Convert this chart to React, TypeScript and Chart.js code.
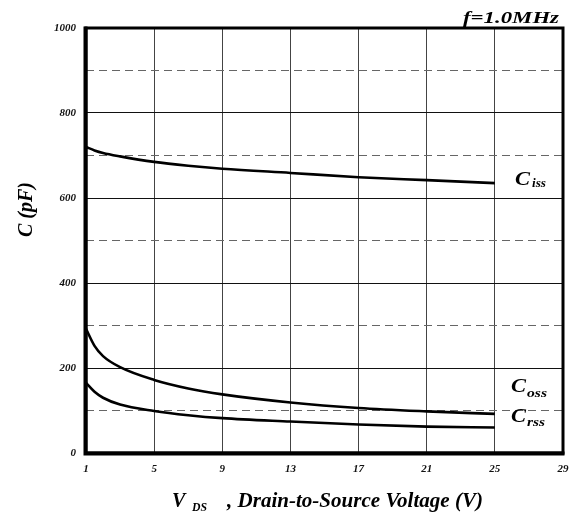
import { useEffect, useRef } from "react";
import { Chart, registerables } from "chart.js";

Chart.register(...registerables);

const vds = [1, 1.5, 2, 3, 5, 7, 9, 13, 17, 21, 25];
const ciss = [720, 712, 706, 698, 685, 676, 669, 659, 649, 642, 635];
const coss = [292, 252, 228, 202, 172, 152, 138, 119, 106, 98, 92];
const crss = [165, 144, 130, 114, 99, 89, 82, 74, 67, 62, 60];
const xTicks = [1, 5, 9, 13, 17, 21, 25, 29];
const yTicks = [0, 100, 200, 300, 400, 500, 600, 700, 800, 900, 1000];
const yLabelled = [0, 200, 400, 600, 800, 1000];

const SERIF = "'Liberation Serif', 'Times New Roman', serif";

function fitText(
  ctx: CanvasRenderingContext2D,
  text: string,
  x: number,
  y: number,
  size: number,
  width?: number
) {
  ctx.save();
  ctx.font = `italic bold ${size}px ${SERIF}`;
  ctx.textAlign = "left";
  ctx.textBaseline = "alphabetic";
  ctx.fillStyle = "#000";
  const w = ctx.measureText(text).width;
  const sx = width ? width / w : 1;
  ctx.translate(x, y);
  ctx.scale(sx, 1);
  ctx.fillText(text, 0, 0);
  ctx.restore();
}

const decorPlugin = {
  id: "decor",
  afterDatasetsDraw(chart: any) {
    const ctx: CanvasRenderingContext2D = chart.ctx;
    const { left, right, top, bottom } = chart.chartArea;
    ctx.save();
    ctx.strokeStyle = "#000";
    ctx.lineWidth = 3;
    ctx.strokeRect(left, top, right - left, bottom - top);
    ctx.lineWidth = 4;
    ctx.beginPath();
    ctx.moveTo(left - 0.5, top - 1.5);
    ctx.lineTo(left - 0.5, bottom + 0.5);
    ctx.lineTo(right + 1.5, bottom + 0.5);
    ctx.stroke();
    ctx.restore();
  },
  afterDraw(chart: any) {
    const ctx: CanvasRenderingContext2D = chart.ctx;
    const { left, right, top, bottom } = chart.chartArea;
    // frequency note
    fitText(ctx, "f=1.0MHz", right - 100, top - 5, 17, 96);
    // curve labels
    fitText(ctx, "C", right - 48, top + 157, 18, 15);
    fitText(ctx, "iss", right - 31, top + 159, 12, 14);
    fitText(ctx, "C", right - 52, top + 364, 18, 15);
    fitText(ctx, "oss", right - 36, top + 369, 12, 20);
    fitText(ctx, "C", right - 52, top + 394, 18, 15);
    fitText(ctx, "rss", right - 36, top + 398, 12, 18);
    // x title
    fitText(ctx, "V", left + 86, bottom + 54, 20);
    fitText(ctx, "DS", left + 106, bottom + 58, 13, 15);
    fitText(ctx, ", Drain-to-Source Voltage (V)", left + 141, bottom + 54, 20, 256);
    // y title
    ctx.save();
    ctx.font = `italic bold 20px ${SERIF}`;
    ctx.fillStyle = "#000";
    ctx.textAlign = "center";
    ctx.textBaseline = "alphabetic";
    ctx.translate(31.5, (top + bottom) / 2 - 31);
    ctx.rotate(-Math.PI / 2);
    ctx.fillText("C (pF)", 0, 0);
    ctx.restore();
  },
};

export default function App() {
  const ref = useRef<HTMLCanvasElement>(null);

  useEffect(() => {
    document.body.style.margin = "0";
    const canvas = ref.current;
    if (!canvas) return;
    const tickFont = { family: SERIF, size: 11, style: "italic" as const, weight: "bold" as const };
    const mk = (data: number[]) => ({
      data: vds.map((v, i) => ({ x: v, y: data[i] })),
      borderColor: "#000",
      borderWidth: 2.6,
      pointRadius: 0,
      fill: false,
      cubicInterpolationMode: "monotone" as const,
    });
    const chart = new Chart(canvas, {
      type: "line",
      data: {
        datasets: [
          { label: "Ciss", ...mk(ciss) },
          { label: "Coss", ...mk(coss) },
          { label: "Crss", ...mk(crss) },
        ],
      },
      options: {
        responsive: false,
        animation: false,
        layout: { padding: { top: 28, right: 6, left: 0, bottom: 0 } },
        plugins: {
          legend: { display: false },
          tooltip: { enabled: false },
        },
        scales: {
          x: {
            type: "linear",
            min: 1,
            max: 29,
            afterBuildTicks: (s: any) => {
              s.ticks = xTicks.map((v) => ({ value: v }));
            },
            afterFit: (s: any) => {
              s.height = 62;
              s.paddingLeft = 0;
              s.paddingRight = 0;
            },
            grid: { color: "#444", lineWidth: 1, drawTicks: false },
            border: { display: false },
            ticks: {
              padding: 10,
              font: tickFont,
              color: "#111",
              autoSkip: false,
              maxRotation: 0,
            },
          },
          y: {
            type: "linear",
            min: 0,
            max: 1000,
            afterBuildTicks: (s: any) => {
              s.ticks = yTicks.map((v) => ({ value: v }));
            },
            afterFit: (s: any) => {
              s.width = 86;
              s.paddingTop = 0;
              s.paddingBottom = 0;
            },
            grid: {
              color: (c: any) =>
                c.tick && yLabelled.includes(c.tick.value) ? "#111" : "#666",
              lineWidth: 1,
              drawTicks: false,
            },
            border: {
              display: false,
              dash: (c: any) =>
                c.tick && !yLabelled.includes(c.tick.value) ? [8, 5] : [],
            },
            ticks: {
              padding: 10,
              font: tickFont,
              color: "#111",
              autoSkip: false,
              callback: (v: any) => (yLabelled.includes(Number(v)) ? String(v) : ""),
            },
          },
        },
      },
      plugins: [decorPlugin],
    });
    return () => chart.destroy();
  }, []);

  return <canvas ref={ref} width={569} height={515} style={{ display: "block" }} />;
}
